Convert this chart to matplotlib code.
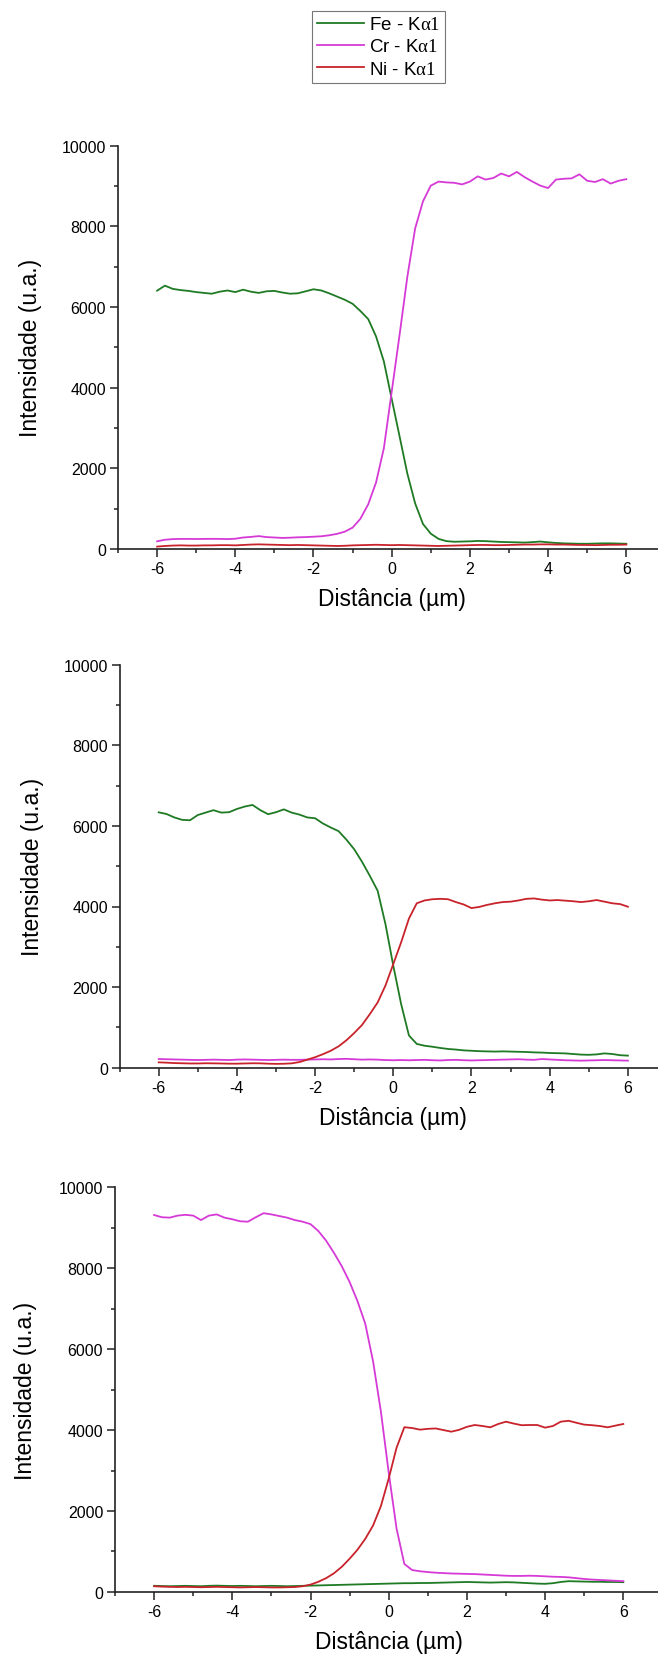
import numpy as np
import matplotlib
matplotlib.use("Agg")
import matplotlib.pyplot as plt
from matplotlib.ticker import MultipleLocator

plt.rcParams['font.family'] = ['Liberation Sans', 'DejaVu Sans']
plt.rcParams['mathtext.fontset'] = 'custom'
plt.rcParams['mathtext.rm'] = 'Liberation Serif'
plt.rcParams['mathtext.it'] = 'Liberation Serif:italic'
plt.rcParams['axes.unicode_minus'] = False

# ---------------- data ----------------
x = [round(-6.0 + 0.2 * i, 1) for i in range(61)]

# Panel 1 (Fe / Cr interface)
p1_fe = [6405, 6530, 6450, 6420, 6400, 6370, 6350, 6330, 6380, 6410,
         6370, 6430, 6380, 6350, 6390, 6400, 6360, 6330, 6340, 6390,
         6440, 6410, 6340, 6260, 6180, 6080, 5900, 5700, 5270, 4650,
         3720, 2800, 1870, 1130, 620, 380, 250, 195, 180, 185,
         190, 200, 195, 185, 175, 170, 165, 160, 170, 185,
         165, 150, 140, 135, 130, 130, 135, 140, 140, 135, 130]
p1_cr = [190, 230, 245, 250, 250, 248, 250, 252, 250, 245,
         255, 285, 300, 320, 295, 285, 275, 280, 290, 295,
         305, 315, 340, 375, 430, 530, 750, 1110, 1650, 2500,
         3900, 5300, 6750, 7950, 8620, 9010, 9110, 9090, 9080, 9040,
         9110, 9240, 9160, 9200, 9310, 9240, 9350, 9220, 9110, 9010,
         8950, 9160, 9180, 9190, 9290, 9130, 9100, 9170, 9060, 9130, 9170]
p1_ni = [60, 75, 85, 90, 85, 85, 90, 90, 95, 95,
         90, 100, 110, 115, 110, 105, 100, 95, 100, 95,
         90, 85, 80, 75, 80, 90, 95, 100, 105, 100,
         95, 100, 95, 90, 85, 80, 75, 80, 85, 90,
         95, 100, 100, 95, 95, 100, 105, 110, 110, 115,
         115, 110, 110, 105, 100, 100, 95, 100, 105, 105, 110]

# Panel 2 (Fe / Ni interface)
p2_fe = [6337, 6295, 6210, 6150, 6140, 6270, 6330, 6390, 6330, 6340,
         6420, 6480, 6520, 6390, 6290, 6340, 6410, 6330, 6280, 6210,
         6190, 6060, 5960, 5870, 5660, 5420, 5110, 4760, 4390, 3560,
         2530, 1580, 800, 590, 545, 520, 490, 465, 450, 430,
         420, 410, 405, 400, 405, 400, 395, 390, 380, 375,
         365, 360, 355, 340, 325, 320, 330, 355, 340, 310, 300]
p2_cr = [215, 210, 205, 200, 195, 190, 195, 200, 195, 190,
         200, 205, 200, 195, 190, 195, 200, 195, 195, 200,
         205, 210, 205, 215, 220, 210, 200, 205, 200, 190,
         185, 190, 185, 190, 195, 185, 180, 190, 195, 185,
         180, 185, 190, 195, 200, 205, 210, 200, 195, 215,
         205, 195, 185, 180, 175, 180, 185, 190, 185, 180, 175]
p2_ni = [133, 125, 115, 110, 105, 105, 110, 108, 105, 100,
         100, 105, 110, 108, 100, 95, 98, 108, 140, 200,
         260, 335, 420, 530, 680, 860, 1060, 1330, 1620, 2040,
         2573, 3110, 3700, 4080, 4150, 4180, 4190, 4180, 4110, 4050,
         3960, 3990, 4040, 4080, 4110, 4120, 4150, 4190, 4200, 4170,
         4150, 4160, 4145, 4130, 4110, 4130, 4160, 4120, 4080, 4060, 3995]

# Panel 3 (Cr / Ni interface)
p3_fe = [151, 145, 140, 145, 150, 145, 140, 150, 155, 150,
         145, 150, 145, 140, 145, 150, 145, 140, 145, 150,
         155, 160, 165, 170, 175, 180, 185, 190, 195, 200,
         205, 210, 215, 215, 220, 220, 225, 230, 235, 240,
         245, 240, 235, 230, 235, 240, 235, 225, 215, 205,
         200, 215, 245, 265, 260, 255, 250, 250, 245, 245, 240]
p3_cr = [9315, 9260, 9250, 9300, 9320, 9300, 9190, 9300, 9330, 9250,
         9210, 9160, 9150, 9260, 9360, 9330, 9290, 9250, 9190, 9150,
         9090, 8920, 8680, 8380, 8050, 7660, 7190, 6630, 5700, 4460,
         2950, 1570, 690, 540, 510, 490, 475, 465, 455, 450,
         445, 440, 430, 420, 410, 400, 395, 395, 400, 395,
         385, 375, 370, 360, 340, 320, 305, 295, 285, 275, 265]
p3_ni = [140, 130, 125, 120, 125, 120, 115, 120, 125, 120,
         115, 110, 115, 120, 115, 110, 110, 115, 120, 140,
         180, 250, 340, 460, 620, 820, 1040, 1310, 1640, 2120,
         2800, 3560, 4070, 4050, 4010, 4030, 4040, 4000, 3960, 4005,
         4080, 4125, 4100, 4068, 4150, 4207, 4160, 4120, 4125, 4125,
         4060, 4100, 4207, 4230, 4180, 4134, 4120, 4100, 4068, 4110, 4150]

labels = [r'Fe - K$\mathrm{\alpha 1}$', r'Cr - K$\mathrm{\alpha 1}$', r'Ni - K$\mathrm{\alpha 1}$']
colors = ['#1f7a24', '#d63ad6', '#c8232b']
panels = [(p1_fe, p1_cr, p1_ni), (p2_fe, p2_cr, p2_ni), (p3_fe, p3_cr, p3_ni)]

yticks = [0, 2000, 4000, 6000, 8000, 10000]
xticks = [-6, -4, -2, 0, 2, 4, 6]

# ---------------- layout (pixels) ----------------
W, H = 658, 1658
fig = plt.figure(figsize=(W / 100, H / 100), dpi=100)
# (left, bottom_y, top_y) in pixels
rects = [(118.0, 550.0, 146.7), (119.6, 1068.7, 665.7), (115.0, 1592.9, 1188.3)]
unit = 39.1
ylab_x = [-0.139, -0.138, -0.142]

handles = None
for k, (fe, cr, ni) in enumerate(panels):
    left, yb, yt = rects[k]
    ax = fig.add_axes([left / W, 1 - yb / H, 14 * unit / W, (yb - yt) / H])
    hs = []
    for series, c, lab in zip((fe, cr, ni), colors, labels):
        h, = ax.plot(x, series, color=c, lw=1.3, label=lab)
        hs.append(h)
    handles = hs
    ax.set_xlim(-7, 7)
    ax.set_ylim(0, 10000)
    ax.set_xticks(xticks)
    ax.set_yticks(yticks)
    ax.xaxis.set_minor_locator(MultipleLocator(1))
    ax.yaxis.set_minor_locator(MultipleLocator(1000))
    for s in ('top', 'right'):
        ax.spines[s].set_visible(False)
    for s in ('left', 'bottom'):
        ax.spines[s].set_linewidth(1.2)
        ax.spines[s].set_color('#222222')
    ax.tick_params(which='major', direction='out', length=5.5, width=1.1,
                   labelsize=11.5, pad=3, color='#222222')
    ax.tick_params(which='minor', direction='out', length=3.2, width=1.1,
                   color='#222222')
    ax.set_xlabel('Distância (µm)', fontsize=16.5)
    ax.set_ylabel('Intensidade (u.a.)', fontsize=16.5)
    ax.xaxis.set_label_coords(0.5, -0.094)
    ax.yaxis.set_label_coords(ylab_x[k], 0.5)
    ax.patch.set_alpha(0)

leg = fig.legend(handles=handles, labels=labels, loc='upper left',
                 bbox_to_anchor=(312 / W, 1 - 12 / H), fontsize=13.5,
                 frameon=True, fancybox=False, borderaxespad=0,
                 handlelength=2.5, handletextpad=0.27, labelspacing=0.27,
                 borderpad=0.27)
leg.get_frame().set_edgecolor('#555555')
leg.get_frame().set_linewidth(0.8)

fig.savefig('out.png', dpi=100)
